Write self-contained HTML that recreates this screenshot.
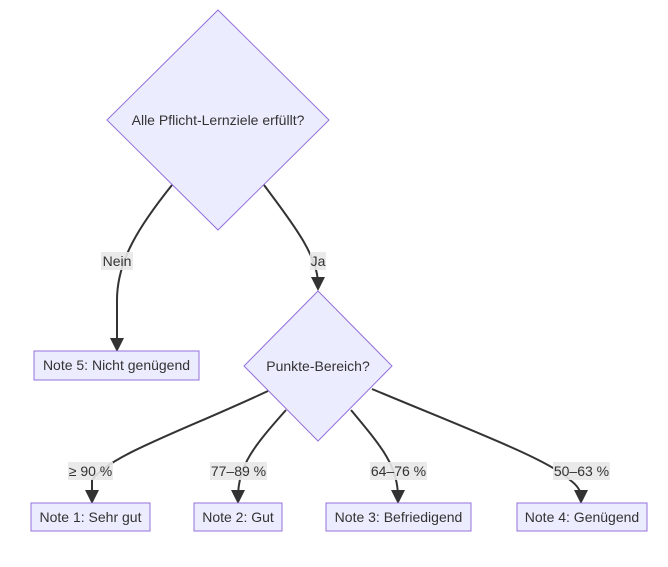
<!DOCTYPE html>
<html><head><meta charset="utf-8"><style>
html,body{margin:0;padding:0;background:#fff;}
svg{display:block;}
text{font-family:"Liberation Sans",Arial,sans-serif;font-size:14px;fill:#333;}
.n{fill:#ECECFF;stroke:#9370DB;stroke-width:1;}
.e{fill:none;stroke:#333;stroke-width:2;}
.lb{fill:#e8e8e8;opacity:0.9;}
</style></head><body>
<svg width="668" height="567" viewBox="0 0 668 567" xmlns="http://www.w3.org/2000/svg">
<defs><marker id="a" viewBox="0 0 10 10" refX="5" refY="5" markerWidth="7" markerHeight="7" orient="auto"><path d="M0,0L10,5L0,10z" fill="#333"/></marker></defs>
<!-- edges -->
<path class="e" d="M172,185 C140,225 117,260 117,300 L117,345" marker-end="url(#a)"/>
<path class="e" d="M264,185 C290,220 318,255 318,284" marker-end="url(#a)"/>
<path class="e" d="M268,391 C180,432 110,455 92,480 L92,497" marker-end="url(#a)"/>
<path class="e" d="M286,410 C255,445 238,465 238,497" marker-end="url(#a)"/>
<path class="e" d="M351,410 C380,445 398,465 398,497" marker-end="url(#a)"/>
<path class="e" d="M372,389 C470,430 550,460 570,480 Q581,488 581,497" marker-end="url(#a)"/>
<!-- nodes -->
<polygon class="n" points="218,10 329,120 218,230 107,120"/>
<text x="218" y="125" text-anchor="middle">Alle Pflicht-Lernziele erfüllt?</text>
<rect class="n" x="34" y="351" width="165" height="29"/>
<text x="116.5" y="370" text-anchor="middle">Note 5: Nicht genügend</text>
<polygon class="n" points="318,291 392,366 318,441 244,366"/>
<text x="318" y="371" text-anchor="middle">Punkte-Bereich?</text>
<rect class="n" x="31" y="503" width="119" height="28"/>
<text x="90.5" y="522" text-anchor="middle">Note 1: Sehr gut</text>
<rect class="n" x="194" y="503" width="88" height="28"/>
<text x="238" y="522" text-anchor="middle">Note 2: Gut</text>
<rect class="n" x="326" y="503" width="145" height="28"/>
<text x="398.5" y="522" text-anchor="middle">Note 3: Befriedigend</text>
<rect class="n" x="517" y="503" width="130" height="28"/>
<text x="582" y="522" text-anchor="middle">Note 4: Genügend</text>
<!-- labels -->
<rect class="lb" x="101" y="252" width="32" height="18"/><text x="117" y="266" text-anchor="middle">Nein</text>
<rect class="lb" x="310" y="252" width="16" height="18"/><text x="318" y="266" text-anchor="middle">Ja</text>
<rect class="lb" x="68" y="462" width="45" height="18"/><text x="90.5" y="476" text-anchor="middle">≥ 90 %</text>
<rect class="lb" x="210" y="462" width="57" height="18"/><text x="238.5" y="476" text-anchor="middle">77–89 %</text>
<rect class="lb" x="370" y="462" width="57" height="18"/><text x="398.5" y="476" text-anchor="middle">64–76 %</text>
<rect class="lb" x="553" y="462" width="57" height="18"/><text x="581.5" y="476" text-anchor="middle">50–63 %</text>
</svg>
</body></html>
